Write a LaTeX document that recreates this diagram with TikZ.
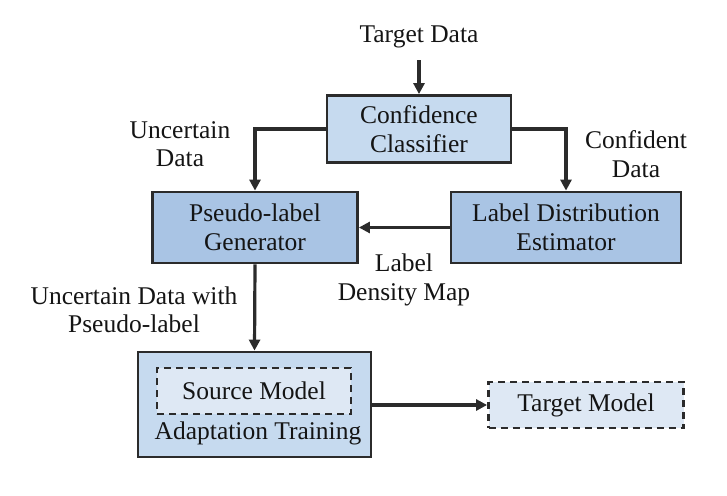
\documentclass[tikz,border=0pt]{standalone}
\usepackage{fontspec}
\setmainfont{Liberation Serif}
\usetikzlibrary{arrows.meta}
\definecolor{edge}{HTML}{2B2B2B}
\definecolor{fillA}{HTML}{C6DAEF}
\definecolor{fillB}{HTML}{A9C4E4}
\definecolor{fillC}{HTML}{DEE8F4}
\tikzset{
  txt/.style={font=\fontsize{25.5}{28.5}\selectfont, text=black!92, align=center, inner sep=0pt},
  box/.style={txt, draw=edge, line width=2.8pt, rectangle},
  dbox/.style={box, dash pattern=on 7pt off 5pt},
  conn/.style={draw=edge, line width=3.2pt, -{Triangle[length=11pt,width=11pt]}},
}
\begin{document}
\begin{tikzpicture}[x=1pt,y=-1pt]
\useasboundingbox (0,0) rectangle (727,495);
\node[txt] (td) at (419,37) {Target Data};
\node[box, fill=fillA, minimum width=184pt, minimum height=67pt] (cc) at (419,129) {Confidence\\Classifier};
\node[box, fill=fillB, minimum width=205pt, minimum height=71pt] (pl) at (255,227.5) {Pseudo-label\\Generator};
\node[box, fill=fillB, minimum width=230pt, minimum height=71pt] (ld) at (566,227.5) {Label Distribution\\Estimator};
\node[box, fill=fillA, minimum width=233pt, minimum height=105pt] (at) at (254.5,404.5) {};
\node[dbox, fill=fillC, minimum width=194pt, minimum height=46pt] (sm) at (254,391) {Source Model};
\node[txt] (atl) at (258,433) {Adaptation Training};
\node[dbox, fill=fillC, minimum width=195pt, minimum height=46pt] (tm) at (586,405) {Target Model};
\node[txt] (ud) at (180,144) {Uncertain\\Data};
\node[txt] (cd) at (636,154) {Confident\\Data};
\node[txt] (ldm) at (404,280) {Label\\Density Map};
\node[txt] (udp) at (134,310) {Uncertain Data with\\Pseudo-label};
\coordinate (tdb) at (419,60);
\draw[conn] (tdb) -- (cc.north);
\draw[conn] (cc.west) -| (pl.north);
\draw[conn] (cc.east) -| (ld.north);
\draw[conn] (ld.west) -- (pl.east);
\draw[conn] (pl.south) -- (at.north);
\draw[conn] (at.east |- tm.west) -- (tm.west);
\end{tikzpicture}
\end{document}
